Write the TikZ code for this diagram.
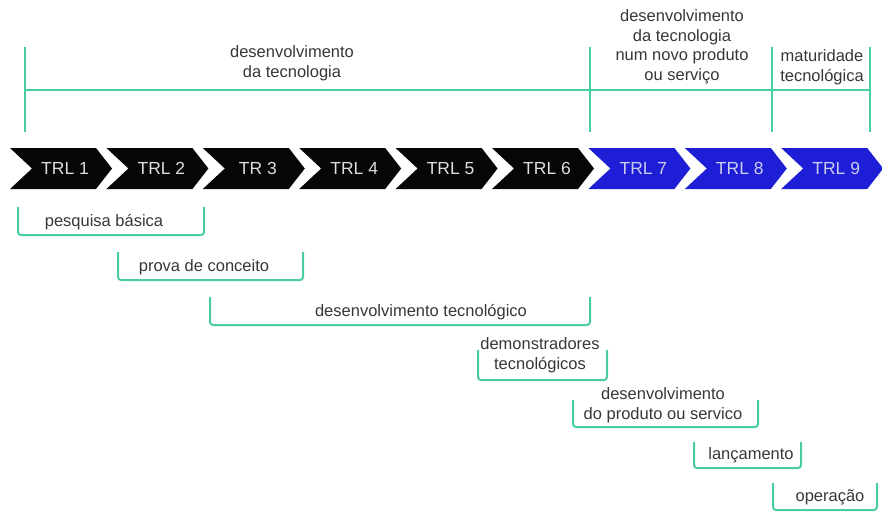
\documentclass[tikz,border=0pt]{standalone}
\usepackage{fontspec}
\setsansfont{Liberation Sans}
\usepackage{xcolor}
\usepackage{tikz}
\usetikzlibrary{positioning, calc}
\definecolor{phasegreen}{RGB}{72, 206, 162}
\definecolor{trlblack}{RGB}{6, 6, 6}
\definecolor{trlblue}{RGB}{30, 30, 215}
\definecolor{labeltext}{RGB}{55, 55, 55}
\definecolor{trltextdark}{RGB}{222, 222, 222}
\definecolor{trltextblue}{RGB}{205, 205, 240}
\tikzset{
  font=\sffamily,
  phaseline/.style={draw=phasegreen, line width=2pt},
  bracketline/.style={draw=phasegreen, line width=2pt, rounded corners=3pt},
  phaselabel/.style={
    align=center, text=labeltext, inner sep=0pt,
    font=\sffamily\fontsize{16.5}{19.5}\selectfont
  },
  trllabel/.style={inner sep=0pt, font=\sffamily\fontsize{17.5}{20}\selectfont}
}

\begin{document}
\begin{tikzpicture}[x=1pt, y=-1pt]
  \useasboundingbox (0,0) rectangle (882,512);

  % phases above the scale
  \draw[phaseline] (25,90) -- (870,90);
  \foreach \x in {25,590,772,870}
    \draw[phaseline] (\x,47) -- (\x,132);

  \node[phaselabel] (techdev) at (292,63) {desenvolvimento\\da tecnologia};
  \node[phaselabel] (productdev) at (682,47) {desenvolvimento\\da tecnologia\\num novo produto\\ou serviço};
  \node[phaselabel] (maturity) at (822,67) {maturidade\\tecnológica};

  % TRL chevrons
  \foreach \lbl/\col/\tcol [count=\n] in {TRL 1/trlblack/trltextdark, TRL 2/trlblack/trltextdark,
      TR 3/trlblack/trltextdark, TRL 4/trlblack/trltextdark, TRL 5/trlblack/trltextdark,
      TRL 6/trlblack/trltextdark, TRL 7/trlblue/trltextblue, TRL 8/trlblue/trltextblue,
      TRL 9/trlblue/trltextblue} {
    \pgfmathsetmacro{\xo}{10+96.4*(\n-1)}
    \fill[\col] (\xo,148) -- ++(86,0) -- ++(16,20.5) -- ++(-16,20.5) -- ++(-86,0) -- ++(22,-20.5) -- cycle;
    \node[trllabel, text=\tcol] (trl\n) at (\xo+55,168.5) {\lbl};
  }

  % activity brackets
  \foreach \xa/\xb/\yt/\yb in {18/204/207/235, 118/303/252/280, 210/590/297/325,
      478/607/350/380, 573/758/400/427, 694/801/442/468, 773/877/483/510}
    \draw[bracketline] (\xa,\yt) -- (\xa,\yb) -- (\xb,\yb) -- (\xb,\yt);

  \node[phaselabel] (research) at (104,222) {pesquisa básica};
  \node[phaselabel] (concept) at (204,267) {prova de conceito};
  \node[phaselabel] (techdevel) at (421,312) {desenvolvimento tecnológico};
  \node[phaselabel] (demo) at (540,355) {demonstradores\\tecnológicos};
  \node[phaselabel] (proddevel) at (663,405) {desenvolvimento\\do produto ou servico};
  \node[phaselabel] (launch) at (751,455) {lançamento};
  \node[phaselabel] (operation) at (830,497) {operação};
\end{tikzpicture}
\end{document}
